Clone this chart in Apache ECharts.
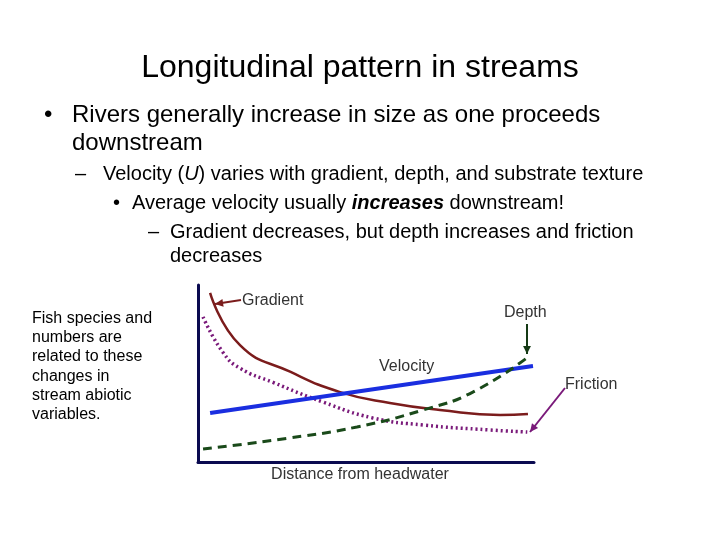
<!DOCTYPE html>
<html>
<head>
<meta charset="utf-8">
<script src="https://cdn.jsdelivr.net/npm/echarts@6/dist/echarts.min.js"></script>
<style>html,body{margin:0;padding:0;background:#fff}#c{width:720px;height:540px}</style>
</head>
<body>
<div id="c"></div>
<script>
// curves, x = distance (0-100), y = relative level (0-100)
var gradient = [[3.6,95.5],[12.5,66],[27.4,51],[42.3,39.5],[57.1,33.3],[72,29.4],[89.9,26.6],[98.2,27.1]];
var friction = [[1.5,82],[7.4,62],[12.5,53],[22.3,45],[37.2,33.9],[52,24.9],[67,20.9],[86.9,18.1],[98,16.9]];
var velocity = [[3.6,27.7],[99.7,54.2]];
var depth = [[1.5,7.3],[27.4,13.6],[47.3,19.8],[67,29.4],[81.8,39.5],[98.2,59.3]];

var F = 'Arial, "Liberation Sans", sans-serif';
function txt(x, y, s, size, extra) {
  var st = {x: x, y: y, text: s, font: (size || 18) + 'px ' + F, fill: '#000', textVerticalAlign: 'middle'};
  for (var k in extra) st[k] = extra[k];
  return {type: 'text', style: st};
}
function arrow(x1, y1, x2, y2, color) {
  var a = Math.atan2(y2 - y1, x2 - x1), L = 9, w = 0.45;
  return [
    {type: 'line', shape: {x1: x1, y1: y1, x2: x2, y2: y2}, style: {stroke: color, lineWidth: 2}},
    {type: 'polygon', shape: {points: [[x2, y2],
      [x2 - L * Math.cos(a - w), y2 - L * Math.sin(a - w)],
      [x2 - L * Math.cos(a + w), y2 - L * Math.sin(a + w)]]}, style: {fill: color}}
  ];
}

var chart = echarts.init(document.getElementById('c'));
var g = [
  txt(360, 68, 'Longitudinal pattern in streams', 32, {textAlign: 'center'}),
  txt(44, 115, '•', 24),
  txt(72, 115, 'Rivers generally increase in size as one proceeds', 24),
  txt(72, 143, 'downstream', 24),
  txt(75, 174, '–', 20),
  {type: 'text', style: {x: 103, y: 174, textVerticalAlign: 'middle',
    text: 'Velocity ({i|U}) varies with gradient, depth, and substrate texture',
    font: '20px ' + F, fill: '#000', rich: {i: {fontStyle: 'italic', fontSize: 20, fontFamily: F}}}},
  txt(113, 203, '•', 20),
  {type: 'text', style: {x: 132, y: 203, textVerticalAlign: 'middle',
    text: 'Average velocity usually {b|increases} downstream!',
    font: '20px ' + F, fill: '#000', rich: {b: {fontStyle: 'italic', fontWeight: 'bold', fontSize: 20, fontFamily: F}}}},
  txt(148, 232, '–', 20),
  txt(170, 232, 'Gradient decreases, but depth increases and friction', 20),
  txt(170, 256, 'decreases', 20),
  txt(32, 319, 'Fish species and', 16),
  txt(32, 338, 'numbers are', 16),
  txt(32, 357, 'related to these', 16),
  txt(32, 377, 'changes in', 16),
  txt(32, 396, 'stream abiotic', 16),
  txt(32, 415, 'variables.', 16),
  txt(242, 301, 'Gradient', 16, {fill: '#333'}),
  txt(504, 313, 'Depth', 16, {fill: '#333'}),
  txt(379, 367, 'Velocity', 16, {fill: '#333'}),
  txt(565, 385, 'Friction', 16, {fill: '#333'}),
  txt(360, 475, 'Distance from headwater', 16, {fill: '#333', textAlign: 'center'})
];
g = g.concat(arrow(241, 300, 215, 304, '#7b1c1c'))
     .concat(arrow(527, 324, 527, 354, '#153a15'))
     .concat(arrow(565, 388, 530, 432, '#7a1a7a'));

chart.setOption({
  animation: false,
  grid: {left: 198, top: 285, width: 336, height: 177},
  xAxis: {type: 'value', min: 0, max: 100, axisLine: {onZero: false, lineStyle: {color: '#0a0a50', width: 3}},
    axisTick: {show: false}, axisLabel: {show: false}, splitLine: {show: false}},
  yAxis: {type: 'value', min: 0, max: 100, axisLine: {show: true, lineStyle: {color: '#0a0a50', width: 3}},
    axisTick: {show: false}, axisLabel: {show: false}, splitLine: {show: false}},
  series: [
    {name: 'Gradient', type: 'line', data: gradient, smooth: true, symbol: 'none', lineStyle: {color: '#7b1c1c', width: 2.5}},
    {name: 'Friction', type: 'line', data: friction, smooth: true, symbol: 'none', lineStyle: {color: '#7a1a7a', width: 3.5, type: [2, 3]}},
    {name: 'Velocity', type: 'line', data: velocity, symbol: 'none', lineStyle: {color: '#1a2ee0', width: 4}},
    {name: 'Depth', type: 'line', data: depth, smooth: true, symbol: 'none', lineStyle: {color: '#1a4a1a', width: 3, type: [9, 6]}}
  ],
  graphic: g
});
</script>
</body>
</html>
